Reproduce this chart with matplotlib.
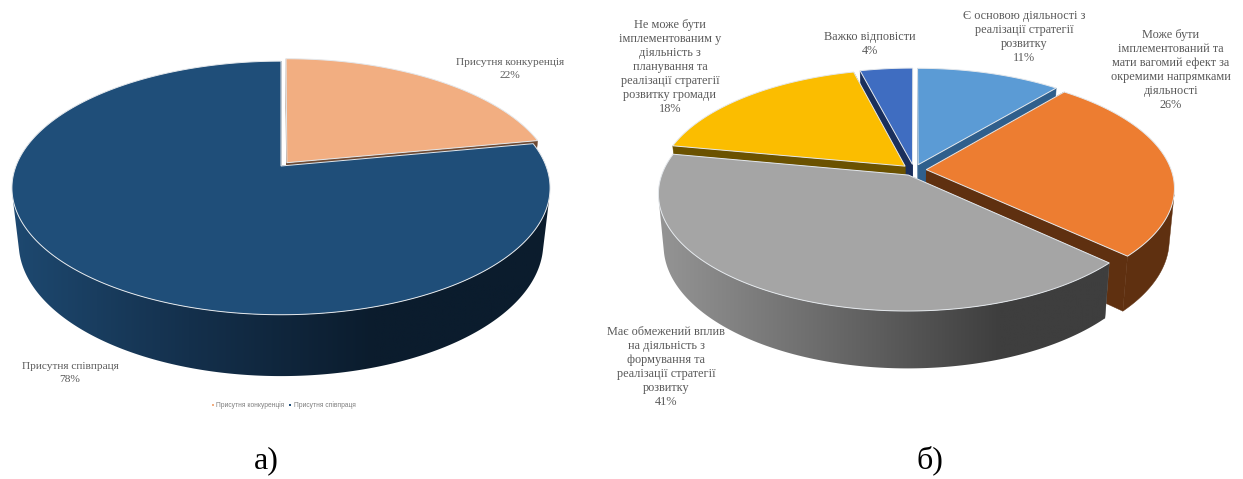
import numpy as np
import matplotlib
matplotlib.use("Agg")
import matplotlib.pyplot as plt
from matplotlib.colors import LinearSegmentedColormap
from matplotlib.patches import Polygon

plt.rcParams['font.family'] = ['Liberation Serif', 'DejaVu Serif']

# ліва діаграма
labels_a = ["Присутня конкуренція", "Присутня співпраця"]
values_a = [22, 78]
colors_a = ["#F2AE81", "#1F4E79"]
walls_a = ["#6E4A33", "#14304C"]

# права діаграма
labels_b = [
    "Є основою діяльності з\nреалізації стратегії\nрозвитку",
    "Може бути\nімплементований та\nмати вагомий ефект за\nокремими напрямками\nдіяльності",
    "Має обмежений вплив\nна діяльність з\nформування та\nреалізації стратегії\nрозвитку",
    "Не може бути\nімплементованим у\nдіяльність з\nпланування та\nреалізації стратегії\nрозвитку громади",
    "Важко відповісти",
]
values_b = [11, 26, 41, 18, 4]
colors_b = ["#5B9BD5", "#ED7D31", "#A5A5A5", "#FBBD00", "#3F6DC1"]
walls_b = ["#2F5F8C", "#5F3010", "#6E6E6E", "#6B5200", "#1A2F5C"]

TEXT_COLOR = "#595959"


class Pie3D:
    # круг у перспективі: u вправо, v вглиб, z вниз
    def __init__(self, x0, y0, rx, ry, height, k, m):
        self.x0, self.y0, self.rx, self.ry = x0, y0, rx, ry
        self.height, self.k, self.m = height, k, m

    def project(self, u, v, z):
        w = 1 + self.k * v + self.m * z
        return self.x0 + self.rx * u / w, self.y0 + (-self.ry * v + self.height * z) / w


def draw_pie(ax, pie, values, colors, walls, explode, order, side_cmap=None):
    edges = np.cumsum([0] + list(values)) / sum(values) * 2 * np.pi
    for i in order:
        a0, a1 = edges[i], edges[i + 1]
        mid = (a0 + a1) / 2
        ou, ov = explode[i] * np.sin(mid), explode[i] * np.cos(mid)
        t = np.linspace(a0, a1, max(int(np.degrees(a1 - a0)), 3) * 2)
        u = ou + np.sin(t)
        v = ov + np.cos(t)
        xt, yt = pie.project(u, v, 0 * u)
        xb, yb = pie.project(u, v, 0 * u + 1)

        # радіальні стінки
        for a in (a0, a1):
            eu, ev = ou + np.sin(a), ov + np.cos(a)
            xs, ys = pie.project(np.array([ou, eu, eu, ou]), np.array([ov, ev, ev, ov]),
                                 np.array([0, 0, 1, 1]))
            ax.fill(xs, ys, color=walls[i], lw=0.3, zorder=2)

        # зовнішня стінка: лише сегменти, повернуті до глядача
        front = np.gradient(xt) * (yb - yt) - np.gradient(yt) * (xb - xt) < 0
        if front.any():
            xy = np.c_[np.r_[xt[front], xb[front][::-1]], np.r_[yt[front], yb[front][::-1]]]
            if side_cmap is not None and i in side_cmap:
                left, right = pie.x0 - 1.05 * pie.rx, pie.x0 + 1.05 * pie.rx
                im = ax.imshow(np.linspace(0, 1, 256)[None, :], cmap=side_cmap[i], aspect="auto",
                               extent=(left, right, xy[:, 1].max() + 3, xy[:, 1].min() - 3), zorder=2)
                im.set_clip_path(Polygon(xy, closed=True, transform=ax.transData))
            else:
                ax.fill(xy[:, 0], xy[:, 1], color=walls[i], lw=0.3, zorder=2)

        # верхня грань
        xa, ya = pie.project(np.array([ou]), np.array([ov]), np.array([0.0]))
        ax.fill(np.r_[xa, xt], np.r_[ya, yt], facecolor=colors[i], edgecolor="#E4E8EC", lw=0.7, zorder=2)


def put_label(ax, x, y, label, value, size, spacing):
    ax.text(x, y, f"{label}\n{value}%", ha="center", va="center", fontsize=size,
            color=TEXT_COLOR, linespacing=spacing, zorder=3)


fig = plt.figure(figsize=(12.43, 4.79), dpi=100, facecolor="white")
ax = fig.add_axes((0, 0, 1, 1))

navy_side = LinearSegmentedColormap.from_list("navy_side", ["#1E4A72", "#14304C", "#0B1C2D", "#0B1C2D"])
gray_side = LinearSegmentedColormap.from_list("gray_side", ["#959595", "#6A6A6A", "#3E3E3E", "#3E3E3E"])

pie_a = Pie3D(281, 166, 265, 123, 56, 0.173, 0.025)
draw_pie(ax, pie_a, values_a, colors_a, walls_a, [0.035, 0.0], [0, 1], {1: navy_side})

pie_b = Pie3D(914, 170, 245, 113, 52, 0.156, 0.02)
draw_pie(ax, pie_b, values_b, colors_b, walls_b, [0.05] * 5, [4, 0, 3, 1, 2], {2: gray_side})

# imshow перевизначає межі, тому ставимо їх після кругів
ax.set_xlim(0, 1243)
ax.set_ylim(479, 0)
ax.axis("off")

# підписи
put_label(ax, 510, 69, labels_a[0], values_a[0], 8.2, 1.55)
put_label(ax, 70, 373, labels_a[1], values_a[1], 8.2, 1.55)

put_label(ax, 1024, 37, labels_b[0], values_b[0], 8.8, 1.24)
put_label(ax, 1171, 70, labels_b[1], values_b[1], 8.8, 1.24)
put_label(ax, 666, 367, labels_b[2], values_b[2], 8.8, 1.24)
put_label(ax, 670, 67, labels_b[3], values_b[3], 8.8, 1.24)
put_label(ax, 870, 44, labels_b[4], values_b[4], 8.8, 1.24)

# легенда
for i, (mx, tx) in enumerate([(213, 216.5), (290, 294)]):
    ax.scatter([mx], [405], s=3, marker="s", color=colors_a[i], lw=0, zorder=3)
    ax.text(tx, 405, labels_a[i], fontsize=4.75, color="#7F7F7F", va="center", family="Liberation Sans")

ax.text(266, 461, "а)", fontsize=23, color="black", ha="center", va="center")
ax.text(930, 460, "б)", fontsize=23, color="black", ha="center", va="center")

fig.savefig("out.png", dpi=100, facecolor="white")
